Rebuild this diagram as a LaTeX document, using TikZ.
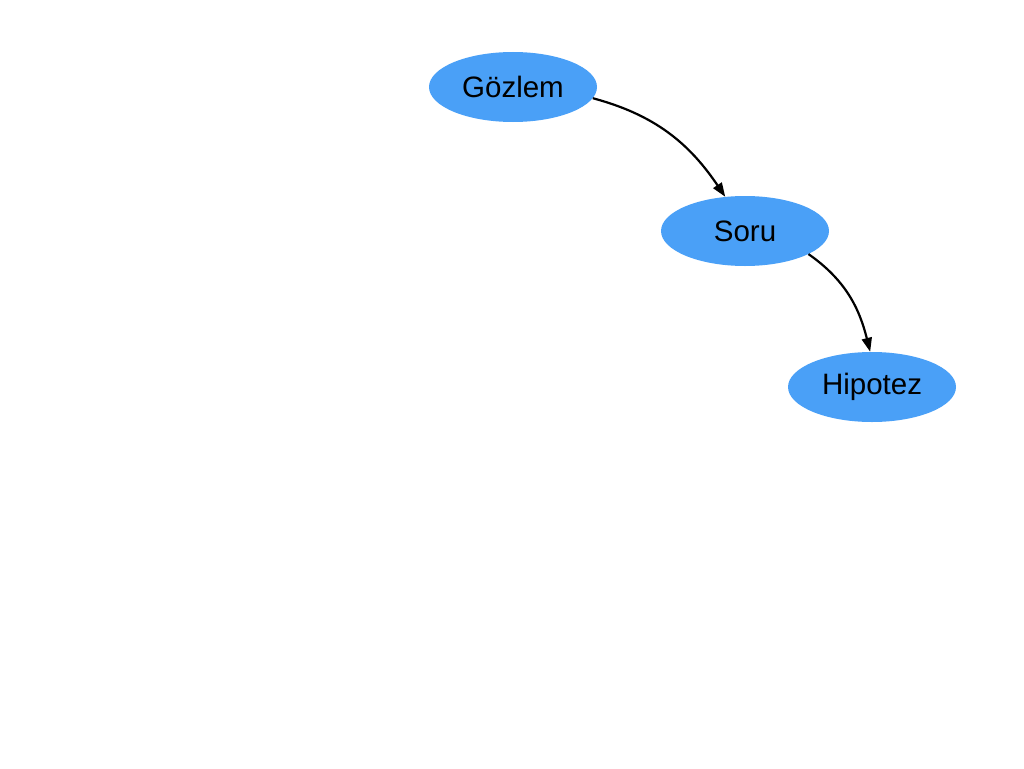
\documentclass[tikz,border=0pt]{standalone}
\usepackage{fontspec}
\setmainfont{Liberation Sans}
\usetikzlibrary{shapes.geometric,arrows.meta}
\definecolor{nodeblue}{HTML}{4AA0F7}
\tikzset{
  bubble/.style={ellipse, fill=nodeblue, draw=none, minimum width=168pt, minimum height=70pt, inner sep=0pt, font=\fontsize{29.5}{33}\selectfont},
  arr/.style={line width=2.2pt, -{Triangle[length=14pt,width=10pt]}}
}
\begin{document}
\begin{tikzpicture}[x=1pt,y=-1pt]
\useasboundingbox (0,0) rectangle (1024,768);
\node[bubble] (g) at (513,87) {Gözlem};
\node[bubble] (s) at (745,231) {Soru};
\node[bubble] (h) at (872,387) {Hipotez};
\draw[arr] (g.-8) to[out=-15, in=124] (s.120);
\draw[arr] (s.-20) to[out=-35, in=104] (h.93);
\end{tikzpicture}
\end{document}
